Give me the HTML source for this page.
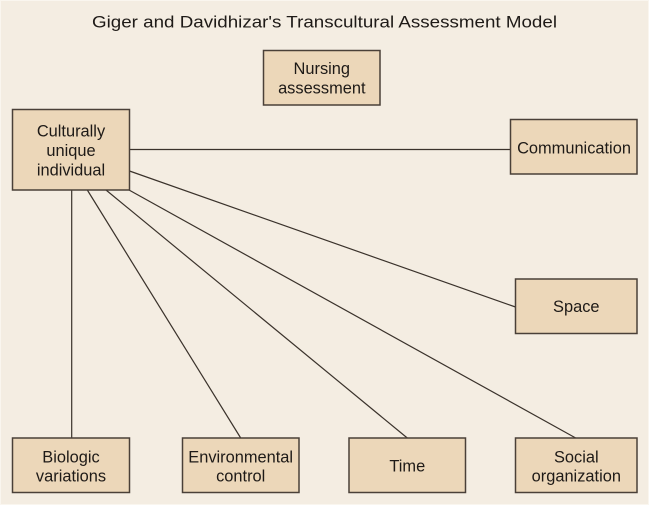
<!DOCTYPE html>
<html>
<head>
<meta charset="utf-8">
<style>
  html,body{margin:0;padding:0;background:#f4ede2;}
  body{width:649px;height:505px;overflow:hidden;}
  svg{display:block;}
  text{font-family:"Liberation Sans", Arial, sans-serif;fill:#1e1a17;}
</style>
</head>
<body>
<svg width="649" height="505" viewBox="0 0 649 505" xmlns="http://www.w3.org/2000/svg">
  <rect x="0" y="0" width="649" height="505" fill="#f4ede2"/>
  <rect x="0.5" y="0.5" width="648" height="504" fill="none" stroke="#faf6ef" stroke-width="1"/>

  <!-- Title -->
  <text x="92" y="27.3" font-size="16.5" textLength="465" lengthAdjust="spacingAndGlyphs">Giger and Davidhizar's Transcultural Assessment Model</text>

  <!-- Connectors -->
  <g stroke="#3a322b" stroke-width="1.2" fill="none">
    <line x1="129.5" y1="149.5" x2="510" y2="149.5"/>
    <line x1="129.5" y1="171" x2="515.5" y2="307"/>
    <line x1="71.7" y1="190" x2="71.7" y2="438"/>
    <line x1="87.3" y1="190" x2="240.7" y2="438"/>
    <line x1="106" y1="190" x2="407.3" y2="438"/>
    <line x1="129" y1="190" x2="575.7" y2="438"/>
  </g>

  <!-- Boxes -->
  <g fill="#ecd7b9" stroke="#4a4038" stroke-width="1.5">
    <rect x="263.5" y="50.5" width="116.5" height="54.5"/>
    <rect x="12.5" y="109.5" width="117" height="80.5"/>
    <rect x="510.5" y="119.5" width="126.5" height="54.5"/>
    <rect x="515.5" y="279" width="121.5" height="54.5"/>
    <rect x="12.5" y="438" width="117" height="54.5"/>
    <rect x="182.5" y="438" width="116.5" height="54.5"/>
    <rect x="349" y="438" width="116.5" height="54.5"/>
    <rect x="515.5" y="438" width="121.5" height="54.5"/>
  </g>

  <!-- Labels -->
  <g font-size="16.4" text-anchor="middle">
    <text x="321.8" y="74">Nursing</text>
    <text x="321.8" y="93.3">assessment</text>

    <text x="71" y="136.7">Culturally</text>
    <text x="71" y="156">unique</text>
    <text x="71" y="175.5">individual</text>

    <text x="574" y="153.3">Communication</text>

    <text x="576.3" y="312">Space</text>

    <text x="71" y="462.7">Biologic</text>
    <text x="71" y="481.7">variations</text>

    <text x="240.7" y="462.7">Environmental</text>
    <text x="240.7" y="481.7">control</text>

    <text x="407.3" y="471.7">Time</text>

    <text x="576.3" y="462.7">Social</text>
    <text x="576.3" y="481.7">organization</text>
  </g>
</svg>
</body>
</html>
